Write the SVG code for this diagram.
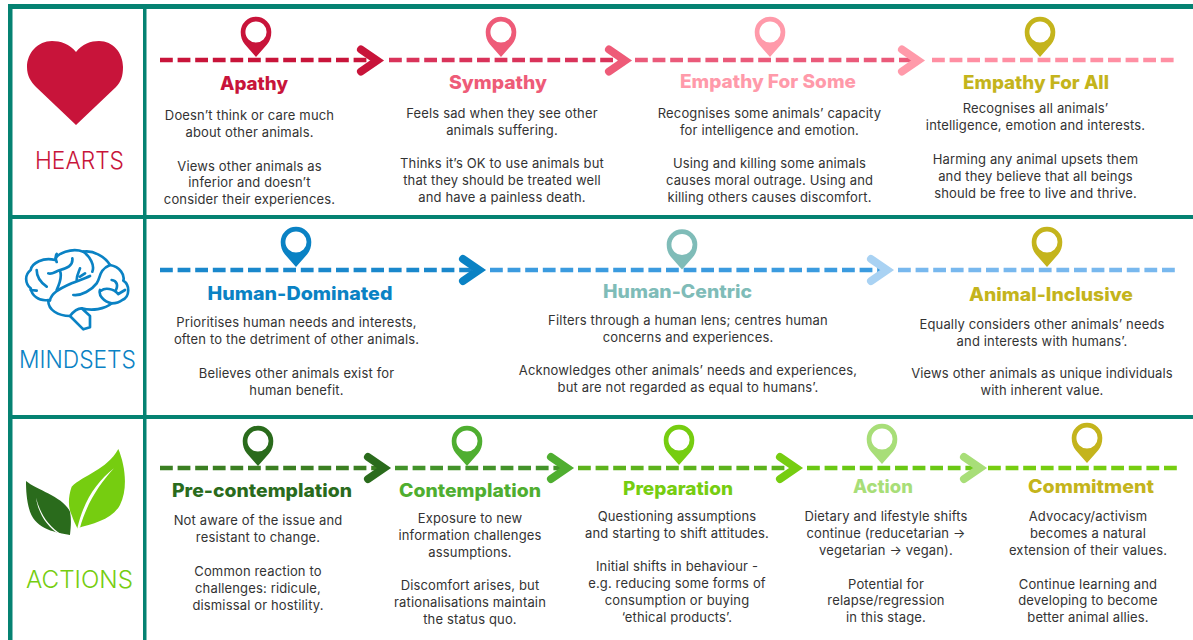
<svg xmlns="http://www.w3.org/2000/svg" width="1193" height="640" viewBox="0 0 1193 640">
<style>
text{font-family:"Inter","Open Sans","Liberation Sans",sans-serif;text-anchor:middle}
.b{font-size:13px;fill:#333;letter-spacing:.15px}
.t{font-size:18.5px;font-weight:800}
.s{font-size:24.5px;font-weight:300}
.d{stroke-width:4.6;stroke-dasharray:12.800 4.800;fill:none}
.c{stroke-width:8;fill:none;stroke-linecap:round;stroke-linejoin:miter}
.red{fill:#c8143a}.rose{fill:#ee5b78}.pink{fill:#ff9aaa}.gold{fill:#c4b41c}
.blue{fill:#0a82c4}.teal{fill:#7fbcb8}.dk{fill:#2a6b1c}.md{fill:#4fae30}.lm{fill:#76cd10}.lt{fill:#a8de78}
</style>
<defs>
<path id="pin" fill-rule="evenodd" d="M0,25 L-11,12.5 C-14,9 -15.300,5 -15.300,0 A15.300,15.300 0 0 1 15.300,0 C15.300,5 14,9 11,12.500 Z M0,-10.600 A10.600,10.600 0 1 0 0,10.600 A10.600,10.600 0 1 0 0,-10.600 Z"/>
<path id="chev" d="M-16,-11 L0,0 L-16,11"/>
</defs>
<rect width="1193" height="640" fill="#fff"/>
<g id="frame" fill="#058272">
<rect x="8" y="4" width="1185" height="5"/>
<rect x="8" y="4" width="4.500" height="636"/>
<rect x="143" y="4" width="3.500" height="636"/>
<rect x="12" y="215" width="1181" height="4"/>
<rect x="12" y="415" width="1181" height="4"/>
</g>
<g id="connectors">
<line class="d" x1="160" y1="60" x2="376" y2="60" stroke="#c8143a"/>
<line class="d" x1="389" y1="60" x2="625" y2="60" stroke="#d9335a"/>
<line class="d" x1="635" y1="60" x2="917" y2="60" stroke="#ea5a7a"/>
<line class="d" x1="932" y1="60" x2="1177" y2="60" stroke="#ff8fa3"/>
<use href="#chev" x="377" y="60.500" class="c" stroke="#c8143a"/>
<use href="#chev" x="625" y="60.500" class="c" stroke="#ee5b78"/>
<use href="#chev" x="918" y="60.500" class="c" stroke="#ff9aaa"/>
<line class="d" x1="160" y1="270" x2="479" y2="270" stroke="#1a88cc"/>
<line class="d" x1="490" y1="270" x2="887" y2="270" stroke="#3b9bdf"/>
<line class="d" x1="898" y1="270" x2="1177" y2="270" stroke="#78b8ee"/>
<use href="#chev" x="479" y="270" class="c" stroke="#0a82c4"/>
<use href="#chev" x="887" y="270" class="c" stroke="#a9d2f3"/>
<line class="d" x1="160" y1="468" x2="384" y2="468" stroke="#3b7f22"/>
<line class="d" x1="395" y1="468" x2="567" y2="468" stroke="#43932a"/>
<line class="d" x1="578" y1="468" x2="796" y2="468" stroke="#5db31c"/>
<line class="d" x1="807" y1="468" x2="980" y2="468" stroke="#6ac814"/>
<line class="d" x1="988" y1="468" x2="1177" y2="468" stroke="#76cd10"/>
<use href="#chev" x="384" y="468" class="c" stroke="#2a6b1c"/>
<use href="#chev" x="567" y="468" class="c" stroke="#4fae30"/>
<use href="#chev" x="796" y="468" class="c" stroke="#76cd10"/>
<use href="#chev" x="980" y="468" class="c" stroke="#a8de78"/>
</g>
<g id="hearts-label">
<path class="red" d="M76,52 C70,44 60,41 52,41 C38,41 27,53 27,67 C27,76 31,82 36,87 L76,125 L116,87 C121,82 123,76 123,67 C123,53 113,41 99,41 C91,41 82,44 76,52Z"/>
<text class="s red" x="79.500" y="169" textLength="89" lengthAdjust="spacingAndGlyphs">HEARTS</text>
</g>
<g id="mindsets-label">
<g transform="translate(15,240) scale(.3333)" fill="none" stroke="#0a82c4" stroke-width="8" stroke-linecap="round" stroke-linejoin="round">
<path d="M100,180 C70,185 50,165 47,145 C30,130 28,105 47,90 C50,70 85,50 120,60 C125,40 170,22 205,35 C235,30 270,50 285,75 C315,80 330,105 325,122 C345,135 345,170 322,180 C310,190 300,190 290,190 C270,208 230,213 200,205 L225,228 L225,262 L205,268 L165,228 C130,228 98,210 100,180Z"/>
<path d="M125,42 C120,50 122,58 125,66M65,90 C65,110 78,128 95,140M47,150 L65,152M100,100 C110,105 120,95 135,90 C155,85 175,78 172,55M135,92 C142,110 132,135 125,150M105,182 C108,160 130,148 170,130 C190,122 210,115 225,108M205,35 C225,50 240,75 232,95M185,120 C185,105 192,95 195,85M195,110 L210,100M175,165 C200,168 230,150 245,130 C258,112 250,90 285,75M165,228 C175,215 185,205 200,205M255,150 C250,165 265,185 290,190M258,152 C270,142 295,145 310,162M290,120 C305,122 310,135 303,150M310,162 L330,150"/>
</g>
<text class="s blue" x="77.500" y="368" textLength="117" lengthAdjust="spacingAndGlyphs">MINDSETS</text>
</g>
<g id="actions-label">
<g transform="translate(0,415) scale(.3333)">
<path class="dk" d="M78,198 C110,225 190,245 210,290 C215,315 212,340 210,360 C170,352 110,345 90,290 C80,260 78,225 78,198Z"/>
<path fill="#fff" d="M108,248 C120,295 145,335 185,358 L178,358 C140,335 115,295 108,248Z"/>
<path class="lm" d="M355,102 C375,150 385,220 360,270 C335,315 280,325 232,340 C225,325 220,315 215,300 C205,280 203,250 215,215 C250,180 320,165 355,102Z"/>
<path fill="#fff" d="M342,160 C290,200 250,260 232,340 L240,338 C260,265 300,205 342,160Z"/>
</g>
<text class="s lm" x="79.500" y="588" textLength="107" lengthAdjust="spacingAndGlyphs">ACTIONS</text>
</g>
<g id="apathy">
<use href="#pin" x="256" y="32" class="red"/>
<text class="t red" x="254" y="90" textLength="68" lengthAdjust="spacingAndGlyphs">Apathy</text>
<text class="b" x="249.500" y="120">Doesn’t think or care much</text>
<text class="b" x="249.500" y="137">about other animals.</text>
<text class="b" x="249.500" y="171">Views other animals as</text>
<text class="b" x="249.500" y="187">inferior and doesn’t</text>
<text class="b" x="249.500" y="204">consider their experiences.</text>
</g>
<g id="sympathy">
<use href="#pin" x="501" y="32" class="rose"/>
<text class="t rose" x="498" y="89" textLength="98" lengthAdjust="spacingAndGlyphs">Sympathy</text>
<text class="b" x="502" y="118">Feels sad when they see other</text>
<text class="b" x="502" y="135">animals suffering.</text>
<text class="b" x="502" y="168">Thinks it’s OK to use animals but</text>
<text class="b" x="502" y="185">that they should be treated well</text>
<text class="b" x="502" y="202">and have a painless death.</text>
</g>
<g id="empathy-for-some">
<use href="#pin" x="770" y="32" class="pink"/>
<text class="t pink" x="768" y="88" textLength="176" lengthAdjust="spacingAndGlyphs">Empathy For Some</text>
<text class="b" x="769.500" y="118">Recognises some animals’ capacity</text>
<text class="b" x="769.500" y="135">for intelligence and emotion.</text>
<text class="b" x="769.500" y="168">Using and killing some animals</text>
<text class="b" x="769.500" y="185">causes moral outrage. Using and</text>
<text class="b" x="769.500" y="202">killing others causes discomfort.</text>
</g>
<g id="empathy-for-all">
<use href="#pin" x="1040" y="32" class="gold"/>
<text class="t gold" x="1036" y="89" textLength="146" lengthAdjust="spacingAndGlyphs">Empathy For All</text>
<text class="b" x="1035.500" y="113">Recognises all animals’</text>
<text class="b" x="1035.500" y="130">intelligence, emotion and interests.</text>
<text class="b" x="1035.500" y="164">Harming any animal upsets them</text>
<text class="b" x="1035.500" y="181">and they believe that all beings</text>
<text class="b" x="1035.500" y="198">should be free to live and thrive.</text>
</g>
<g id="human-dominated">
<use href="#pin" x="296" y="242" class="blue"/>
<text class="t blue" x="300" y="300" textLength="185" lengthAdjust="spacingAndGlyphs">Human-Dominated</text>
<text class="b" x="296.500" y="327">Prioritises human needs and interests,</text>
<text class="b" x="296.500" y="344">often to the detriment of other animals.</text>
<text class="b" x="296.500" y="378">Believes other animals exist for</text>
<text class="b" x="296.500" y="395">human benefit.</text>
</g>
<g id="human-centric">
<use href="#pin" x="682" y="244.500" class="teal"/>
<text class="t teal" x="677.500" y="298" textLength="149" lengthAdjust="spacingAndGlyphs">Human-Centric</text>
<text class="b" x="688" y="325">Filters through a human lens; centres human</text>
<text class="b" x="688" y="342">concerns and experiences.</text>
<text class="b" x="688" y="375">Acknowledges other animals’ needs and experiences,</text>
<text class="b" x="688" y="392">but are not regarded as equal to humans’.</text>
</g>
<g id="animal-inclusive">
<use href="#pin" x="1047" y="242" class="gold"/>
<text class="t gold" x="1051" y="301" textLength="164" lengthAdjust="spacingAndGlyphs">Animal-Inclusive</text>
<text class="b" x="1042" y="329">Equally considers other animals’ needs</text>
<text class="b" x="1042" y="346">and interests with humans’.</text>
<text class="b" x="1042" y="378">Views other animals as unique individuals</text>
<text class="b" x="1042" y="395">with inherent value.</text>
</g>
<g id="pre-contemplation">
<use href="#pin" x="258" y="441" class="dk"/>
<text class="t dk" x="262" y="497" textLength="180" lengthAdjust="spacingAndGlyphs">Pre-contemplation</text>
<text class="b" x="258" y="525">Not aware of the issue and</text>
<text class="b" x="258" y="542">resistant to change.</text>
<text class="b" x="258" y="576">Common reaction to</text>
<text class="b" x="258" y="593">challenges: ridicule,</text>
<text class="b" x="258" y="610">dismissal or hostility.</text>
</g>
<g id="contemplation">
<use href="#pin" x="467" y="441" class="md"/>
<text class="t md" x="470" y="497" textLength="142" lengthAdjust="spacingAndGlyphs">Contemplation</text>
<text class="b" x="470" y="523">Exposure to new</text>
<text class="b" x="470" y="540">information challenges</text>
<text class="b" x="470" y="557">assumptions.</text>
<text class="b" x="470" y="590">Discomfort arises, but</text>
<text class="b" x="470" y="607">rationalisations maintain</text>
<text class="b" x="470" y="624">the status quo.</text>
</g>
<g id="preparation">
<use href="#pin" x="679" y="440" class="lm"/>
<text class="t lm" x="678" y="495" textLength="110" lengthAdjust="spacingAndGlyphs">Preparation</text>
<text class="b" x="677" y="521">Questioning assumptions</text>
<text class="b" x="677" y="538">and starting to shift attitudes.</text>
<text class="b" x="677" y="571">Initial shifts in behaviour -</text>
<text class="b" x="677" y="588">e.g. reducing some forms of</text>
<text class="b" x="677" y="605">consumption or buying</text>
<text class="b" x="677" y="622">‘ethical products’.</text>
</g>
<g id="action">
<use href="#pin" x="882" y="439" class="lt"/>
<text class="t lt" x="883" y="493" textLength="60" lengthAdjust="spacingAndGlyphs">Action</text>
<text class="b" x="886" y="521">Dietary and lifestyle shifts</text>
<text class="b" x="886" y="538">continue (reducetarian →</text>
<text class="b" x="886" y="555">vegetarian → vegan).</text>
<text class="b" x="886" y="589">Potential for</text>
<text class="b" x="886" y="605">relapse/regression</text>
<text class="b" x="886" y="622">in this stage.</text>
</g>
<g id="commitment">
<use href="#pin" x="1087" y="438" class="gold"/>
<text class="t gold" x="1091" y="493" textLength="126" lengthAdjust="spacingAndGlyphs">Commitment</text>
<text class="b" x="1088" y="521">Advocacy/activism</text>
<text class="b" x="1088" y="538">becomes a natural</text>
<text class="b" x="1088" y="555">extension of their values.</text>
<text class="b" x="1088" y="589">Continue learning and</text>
<text class="b" x="1088" y="605">developing to become</text>
<text class="b" x="1088" y="622">better animal allies.</text>
</g>
</svg>
